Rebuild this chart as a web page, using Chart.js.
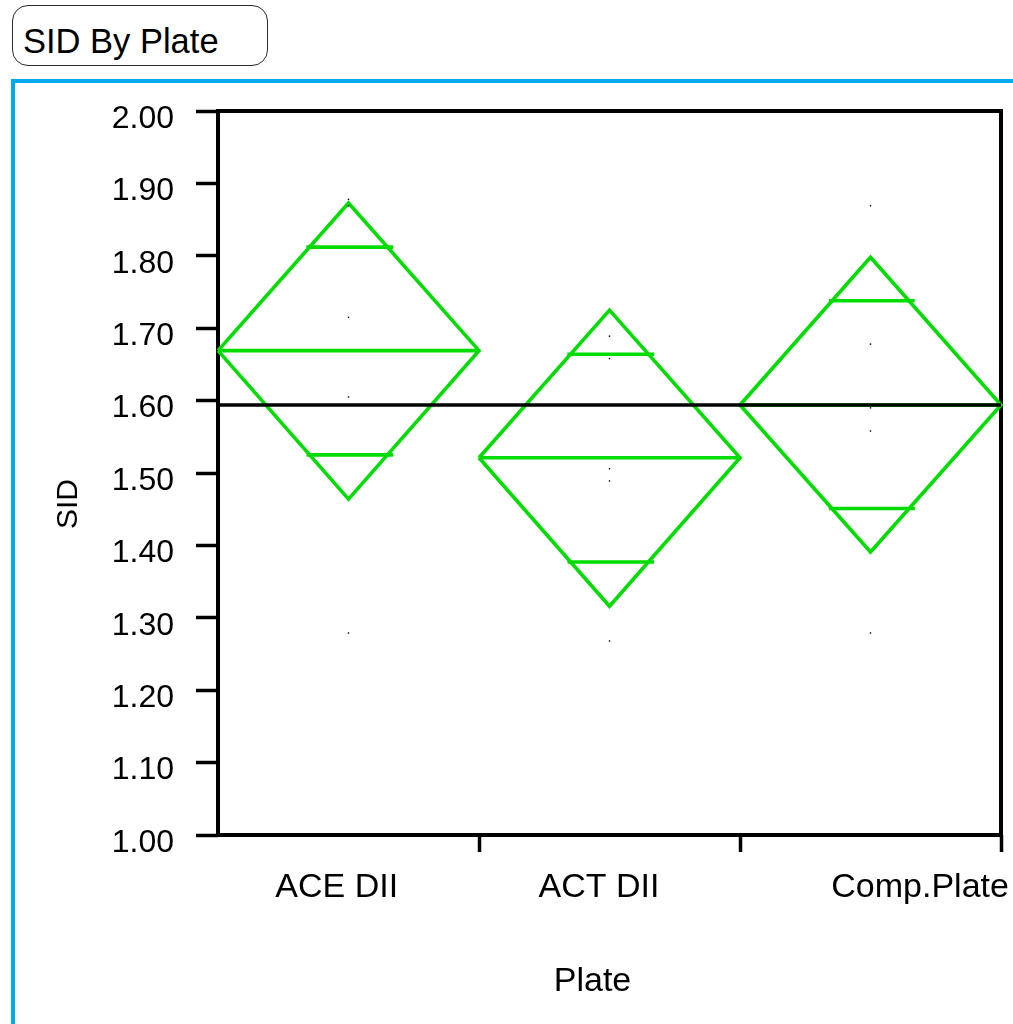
<!DOCTYPE html>
<html>
<head>
<meta charset="utf-8">
<title>SID By Plate</title>
<script src="https://cdn.jsdelivr.net/npm/chart.js@4.4.1/dist/chart.umd.min.js"></script>
<style>
  html, body { margin: 0; padding: 0; background: #fff; width: 1013px; height: 1024px; overflow: hidden;
               font-family: "Liberation Sans", Arial, Helvetica, sans-serif; }
  .title { position: absolute; left: 12px; top: 5px; width: 256px; height: 61px; box-sizing: border-box;
           border: 1.5px solid #2b2b2b; border-radius: 16px; }
  .title span { position: absolute; left: 10px; top: 15px; font-size: 34.5px; line-height: 40px; color: #000; white-space: nowrap; }
  .frame { position: absolute; left: 11px; top: 79px; width: 1010px; height: 960px;
           border-top: 4px solid #00a8ec; border-left: 4px solid #00a8ec; }
  #chart { position: absolute; left: 15px; top: 84px; }
</style>
</head>
<body>
<div class="title"><span>SID By Plate</span></div>
<div class="frame"></div>
<canvas id="chart" width="998" height="940"></canvas>
<script>
// Groups on the x axis
const categories = ['ACE DII', 'ACT DII', 'Comp.Plate'];

// Individual SID observations per plate
const aceDII    = [1.878, 1.869, 1.715, 1.605, 1.279];
const actDII    = [1.689, 1.658, 1.506, 1.489, 1.268];
const compPlate = [1.869, 1.678, 1.590, 1.558, 1.279];

// Means diamond statistics per plate
const groupMeans   = [1.669, 1.521, 1.594];
const ciUpper      = [1.873, 1.725, 1.798];
const ciLower      = [1.464, 1.316, 1.391];
const overlapUpper = [1.812, 1.664, 1.738];
const overlapLower = [1.525, 1.377, 1.451];
const grandMean = 1.594;

// Y axis tick values
const yTickValues = [1.0, 1.1, 1.2, 1.3, 1.4, 1.5, 1.6, 1.7, 1.8, 1.9, 2.0];

const FONT = '"Liberation Sans", Arial, Helvetica, sans-serif';
const GREEN = '#00dc00';
const samples = [aceDII, actDII, compPlate];

// where each group label sits along the category axis
const xLabelAt = [0.455, 1.46, 2.69];

function segment(points, color, width, order) {
  return {
    type: 'line', data: points, borderColor: color, borderWidth: width,
    borderJoinStyle: 'miter', borderCapStyle: 'butt', pointRadius: 0,
    fill: false, tension: 0, clip: false, order: order
  };
}

const datasets = [];

// observations as tiny black dots
const dots = [];
samples.forEach((vals, i) => vals.forEach(v => dots.push({ x: i + 0.5, y: v })));
datasets.push({
  type: 'line', data: dots, showLine: false, pointStyle: 'rect', pointRadius: 1,
  pointBackgroundColor: '#000', pointBorderWidth: 0, clip: false, order: 0
});

// grand mean reference line
datasets.push(segment([{ x: 0, y: grandMean }, { x: 3, y: grandMean }], '#000', 3.6, 1));

// means diamonds with mean line and overlap marks
categories.forEach((name, i) => {
  const c = i + 0.5, m = groupMeans[i];
  datasets.push(segment([
    { x: i, y: m }, { x: c, y: ciUpper[i] }, { x: i + 1, y: m },
    { x: c, y: ciLower[i] }, { x: i, y: m }
  ], GREEN, 3.6, 2));
  datasets.push(segment([{ x: i, y: m }, { x: i + 1, y: m }], GREEN, 3.6, 2));
  [[overlapUpper[i], ciUpper[i] - m], [overlapLower[i], m - ciLower[i]]].forEach(([v, halfCI]) => {
    const half = 0.5 * (1 - Math.abs(v - m) / halfCI);
    datasets.push(segment([{ x: c - half - 0.012, y: v }, { x: c + half + 0.022, y: v }], GREEN, 3.6, 2));
  });
});

// black box around the plot area
const framePlugin = {
  id: 'plotFrame',
  beforeDatasetsDraw(chart) {
    const { ctx, chartArea: a } = chart;
    ctx.save();
    ctx.strokeStyle = '#000';
    ctx.lineWidth = 4;
    ctx.strokeRect(a.left, a.top, a.right - a.left, a.bottom - a.top);
    ctx.restore();
  }
};

// axis titles
const axisTitlePlugin = {
  id: 'axisTitles',
  afterDraw(chart) {
    const { ctx, chartArea: a } = chart;
    ctx.save();
    ctx.fillStyle = '#000';
    ctx.textAlign = 'center';
    ctx.textBaseline = 'alphabetic';
    ctx.font = '34px ' + FONT;
    ctx.fillText('Plate', (a.left + a.right) / 2 - 17, a.bottom + 156);
    ctx.translate(a.left - 141, (a.top + a.bottom) / 2 + 31);
    ctx.rotate(-Math.PI / 2);
    ctx.font = '30px ' + FONT;
    ctx.fillText('SID', 0, 0);
    ctx.restore();
  }
};

new Chart(document.getElementById('chart'), {
  type: 'line',
  data: { datasets },
  options: {
    responsive: false,
    animation: false,
    layout: { padding: { left: 0, right: 12, top: 27, bottom: 0 } },
    plugins: { legend: { display: false }, tooltip: { enabled: false } },
    scales: {
      x: {
        type: 'linear', min: 0, max: 3,
        afterFit(s) { s.height = 189; s.paddingLeft = 0; s.paddingRight = 0; },
        afterBuildTicks(s) {
          const vals = [0, 1, 2, 3].concat(xLabelAt).sort((a, b) => a - b);
          s.ticks = vals.map(v => ({ value: v }));
        },
        border: { display: false },
        grid: {
          drawOnChartArea: false, drawTicks: true, tickLength: 17, tickWidth: 3.5,
          tickColor: c => (c.tick && Number.isInteger(c.tick.value) && c.tick.value > 0) ? '#000' : 'rgba(0,0,0,0)'
        },
        ticks: {
          autoSkip: false, maxRotation: 0, minRotation: 0, padding: 15, color: '#000',
          font: { family: FONT, size: 34 },
          callback(value) { const k = xLabelAt.indexOf(value); return k >= 0 ? categories[k] : ''; }
        }
      },
      y: {
        type: 'linear', min: 1, max: 2,
        afterFit(s) { s.width = 203; s.paddingTop = 0; s.paddingBottom = 0; },
        afterBuildTicks(s) { s.ticks = yTickValues.map(v => ({ value: v })); },
        border: { display: false },
        grid: { drawOnChartArea: false, drawTicks: true, tickLength: 22, tickWidth: 3.5, tickColor: '#000' },
        ticks: {
          padding: 22, labelOffset: 8, color: '#000',
          font: { family: FONT, size: 32 },
          callback: v => Number(v).toFixed(2)
        }
      }
    }
  },
  plugins: [framePlugin, axisTitlePlugin]
});
</script>
</body>
</html>
